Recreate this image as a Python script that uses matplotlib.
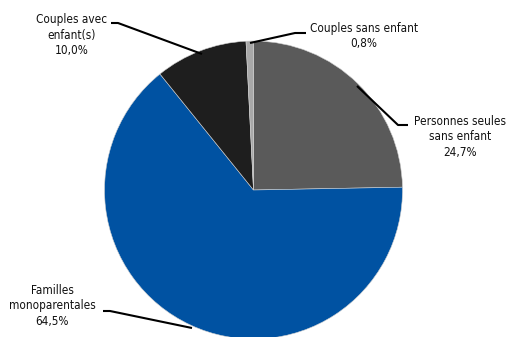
import matplotlib
matplotlib.use("Agg")
import matplotlib.pyplot as plt

categories = ["Personnes seules\nsans enfant", "Familles\nmonoparentales",
              "Couples avec\nenfant(s)", "Couples sans enfant"]
values = [24.7, 64.5, 10.0, 0.8]
colors = ["#5a5a5a", "#0052a2", "#1e1e1e", "#a8a8a8"]

W, H = 507, 337
fig = plt.figure(figsize=(W / 100, H / 100), dpi=100)
ax = fig.add_axes([0, 0, 1, 1])

def Y(py):
    # pixel row (from top) to data y
    return H - py

cx, cy, r = 253.5, Y(190), 149
ax.pie(values, colors=colors, startangle=90, counterclock=False,
       center=(cx, cy), radius=r, frame=True,
       wedgeprops=dict(linewidth=0.4, edgecolor="#d0d0d0"))
ax.set_xlim(0, W)
ax.set_ylim(0, H)
ax.set_aspect("equal")
ax.axis("off")

def pct(v):
    return f"{v:.1f}".replace(".", ",") + "%"

fs = 8.5
# label text centre and leader-line points (pixel rows from top)
label_specs = [
    ((460, 137), [(357, 86), (398, 125), (408, 125)]),
    ((52, 306), [(192, 328), (110, 311), (103, 311)]),
    ((72, 35), [(202, 54), (118, 23), (111, 23)]),
    ((364, 36), [(250, 43), (295, 33), (306, 33)]),
]
for name, v, (pos, pts) in zip(categories, values, label_specs):
    txt = name + "\n" + pct(v)
    ax.text(pos[0], Y(pos[1]), txt, ha="center", va="center", fontsize=fs,
            linespacing=1.28, color="#111111", family="DejaVu Sans",
            stretch="condensed")
    ax.plot([p[0] for p in pts], [Y(p[1]) for p in pts], color="black",
            lw=1.5, solid_capstyle="butt")

fig.savefig("out.png", dpi=100)
